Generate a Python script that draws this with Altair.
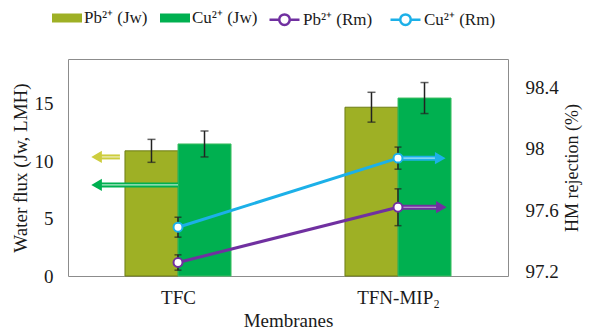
import altair as alt
import pandas as pd

# ---------------- data ----------------
membranes = ["TFC", "TFN-MIP₂"]
series_jw = ["Pb²⁺ (Jw)", "Cu²⁺ (Jw)"]
series_rm = ["Pb²⁺ (Rm)", "Cu²⁺ (Rm)"]

jw_pb = [10.9, 14.7]
jw_pb_err = [1.0, 1.3]
jw_cu = [11.5, 15.5]
jw_cu_err = [1.13, 1.35]

rm_pb = [97.26, 97.62]
rm_pb_err = [0.05, 0.12]
rm_cu = [97.49, 97.94]
rm_cu_err = [0.065, 0.072]

left_ticks = [0, 5, 10, 15]
right_ticks = [97.2, 97.6, 98, 98.4]

# arrow annotations pointing to the axis each series belongs to
arrow_left_y = [10.37, 7.93]          # Jw units
arrow_left_start = [0.236, 0.5]       # x units
arrow_left_end = [0.13, 0.13]
arrow_right_end = [1.692, 1.697]

# ---------------- style ----------------
FONT = "Liberation Serif"
TXT = "#1a1a1a"
OLIVE, GREEN = "#9EB025", "#00B050"
OLIVE_EDGE, GREEN_EDGE = "#6E7D16", "#3DBE62"
PURPLE, CYAN = "#7030A0", "#1CB0E8"
ARROW_YELLOW = "#CDCD3E"
BAR_W = 0.241
RECT = "M-1,-0.3H1V0.3H-1Z"
LINE_CIRCLE = ("M-1,0H-0.35M0.35,0H1M-0.35,0A0.35,0.35,0,1,1,0.35,0"
               "A0.35,0.35,0,1,1,-0.35,0Z")

# ---------------- tables ----------------
bar_rows = []
for i, m in enumerate(membranes):
    c = i + 0.5
    bar_rows.append(dict(series=series_jw[0], x0=c - BAR_W, x1=c, xm=c - BAR_W / 2,
                         jw=jw_pb[i], lo=jw_pb[i] - jw_pb_err[i], hi=jw_pb[i] + jw_pb_err[i],
                         edge=OLIVE_EDGE))
    bar_rows.append(dict(series=series_jw[1], x0=c, x1=c + BAR_W, xm=c + BAR_W / 2,
                         jw=jw_cu[i], lo=jw_cu[i] - jw_cu_err[i], hi=jw_cu[i] + jw_cu_err[i],
                         edge=GREEN_EDGE))
bar_df = pd.DataFrame(bar_rows)

rm_rows = []
for i, m in enumerate(membranes):
    c = i + 0.5
    rm_rows.append(dict(series=series_rm[0], x=c, rm=rm_pb[i],
                        lo=rm_pb[i] - rm_pb_err[i], hi=rm_pb[i] + rm_pb_err[i]))
    rm_rows.append(dict(series=series_rm[1], x=c, rm=rm_cu[i],
                        lo=rm_cu[i] - rm_cu_err[i], hi=rm_cu[i] + rm_cu_err[i]))
rm_df = pd.DataFrame(rm_rows)

la_df = pd.DataFrame(dict(y=arrow_left_y, x0=arrow_left_start, x1=arrow_left_end,
                          color=[ARROW_YELLOW, GREEN]))
last = len(membranes) - 0.5
ra_df = pd.DataFrame(dict(y=[rm_cu[-1], rm_pb[-1]], x0=[last, last], x1=arrow_right_end,
                          color=[CYAN, PURPLE]))

# ---------------- scales / axes ----------------
X_DOM = [0, len(membranes)]
YL_DOM = [0, 18.9]
YR_DOM = [97.172, 98.586]


def xs():
    return alt.Scale(domain=X_DOM)


def yl():
    return alt.Scale(domain=YL_DOM)


def yr():
    return alt.Scale(domain=YR_DOM)


# category label for each tick at i + 0.5
label_expr = "'" + membranes[-1] + "'"
for i in range(len(membranes) - 2, -1, -1):
    label_expr = f"datum.value < {i + 1} ? '{membranes[i]}' : ({label_expr})"

common = dict(grid=False, ticks=False, domain=False, labelFont=FONT, labelFontSize=19,
              titleFont=FONT, titleFontWeight="normal",
              labelColor=TXT, titleColor=TXT)
x_axis = alt.Axis(values=[i + 0.5 for i in range(len(membranes))], labelExpr=label_expr,
                  title="Membranes", labelPadding=12, titlePadding=4, titleFontSize=19,
                  **common)
yl_axis = alt.Axis(orient="left", values=left_ticks, title="Water flux (Jw, LMH)",
                   labelPadding=15, titlePadding=4, titleFontSize=19, **common)
yr_axis = alt.Axis(orient="right", values=right_ticks, format=".1~f",
                   title="HM rejection (%)", titleAngle=270, titleBaseline="top",
                   labelPadding=17, titlePadding=5, titleFontSize=18, **common)

legend_common = dict(orient="none", direction="horizontal", title=None, symbolSize=900,
                     labelFont=FONT, labelFontSize=17, labelColor=TXT, labelOffset=2,
                     columnPadding=12, legendY=-56)
legend_a = alt.Legend(legendX=-16, symbolType=RECT, symbolStrokeWidth=0, **legend_common)
legend_b = alt.Legend(legendX=200, symbolType=LINE_CIRCLE, symbolStrokeWidth=2.5,
                      symbolFillColor="white", **legend_common)

NOAX = None

# ---------------- Jw layers (left axis) ----------------
bars = alt.Chart(bar_df).mark_bar(strokeWidth=1).encode(
    x=alt.X("x0:Q", scale=xs(), axis=x_axis),
    x2="x1:Q",
    y=alt.Y("jw:Q", scale=yl(), axis=yl_axis),
    y2=alt.datum(0),
    fill=alt.Fill("series:N", scale=alt.Scale(domain=series_jw, range=[OLIVE, GREEN]),
                  legend=legend_a),
    stroke=alt.Stroke("edge:N", scale=None),
)
jw_rule = alt.Chart(bar_df).mark_rule(color="#222", strokeWidth=1.5).encode(
    x=alt.X("xm:Q", scale=xs(), axis=x_axis),
    y=alt.Y("lo:Q", scale=yl(), axis=NOAX), y2="hi:Q")
jw_cap_hi = alt.Chart(bar_df).mark_tick(color="#222", orient="horizontal", size=8,
                                        thickness=1.5).encode(
    x=alt.X("xm:Q", scale=xs(), axis=x_axis), y=alt.Y("hi:Q", scale=yl(), axis=NOAX))
jw_cap_lo = alt.Chart(bar_df).mark_tick(color="#222", orient="horizontal", size=8,
                                        thickness=1.5).encode(
    x=alt.X("xm:Q", scale=xs(), axis=x_axis), y=alt.Y("lo:Q", scale=yl(), axis=NOAX))

la_shaft = alt.Chart(la_df).mark_rule(strokeWidth=5).encode(
    x=alt.X("x0:Q", scale=xs(), axis=x_axis), x2="x1:Q",
    y=alt.Y("y:Q", scale=yl(), axis=NOAX),
    color=alt.Color("color:N", scale=None))
la_inner = alt.Chart(la_df).mark_rule(strokeWidth=1.2, color="white", opacity=0.7).encode(
    x=alt.X("x0:Q", scale=xs(), axis=x_axis), x2="x1:Q",
    y=alt.Y("y:Q", scale=yl(), axis=NOAX))
la_head = alt.Chart(la_df).mark_point(shape="triangle-left", filled=True, size=150,
                                      opacity=1).encode(
    x=alt.X("x1:Q", scale=xs(), axis=x_axis), y=alt.Y("y:Q", scale=yl(), axis=NOAX),
    color=alt.Color("color:N", scale=None))

# ---------------- Rm layers (right axis) ----------------
rm_rule = alt.Chart(rm_df).mark_rule(color="#222", strokeWidth=1.5).encode(
    x=alt.X("x:Q", scale=xs(), axis=x_axis),
    y=alt.Y("lo:Q", scale=yr(), axis=NOAX), y2="hi:Q")
rm_cap_hi = alt.Chart(rm_df).mark_tick(color="#222", orient="horizontal", size=7,
                                       thickness=1.5).encode(
    x=alt.X("x:Q", scale=xs(), axis=x_axis), y=alt.Y("hi:Q", scale=yr(), axis=NOAX))
rm_cap_lo = alt.Chart(rm_df).mark_tick(color="#222", orient="horizontal", size=7,
                                       thickness=1.5).encode(
    x=alt.X("x:Q", scale=xs(), axis=x_axis), y=alt.Y("lo:Q", scale=yr(), axis=NOAX))
lines = alt.Chart(rm_df).mark_line(strokeWidth=3).encode(
    x=alt.X("x:Q", scale=xs(), axis=x_axis),
    y=alt.Y("rm:Q", scale=yr(), axis=yr_axis),
    stroke=alt.Stroke("series:N", scale=alt.Scale(domain=series_rm, range=[PURPLE, CYAN]),
                      legend=legend_b),
)
ra_shaft = alt.Chart(ra_df).mark_rule(strokeWidth=5).encode(
    x=alt.X("x0:Q", scale=xs(), axis=x_axis), x2="x1:Q",
    y=alt.Y("y:Q", scale=yr(), axis=NOAX),
    color=alt.Color("color:N", scale=None))
ra_inner = alt.Chart(ra_df).mark_rule(strokeWidth=1.2, color="white", opacity=0.6).encode(
    x=alt.X("x0:Q", scale=xs(), axis=x_axis), x2="x1:Q",
    y=alt.Y("y:Q", scale=yr(), axis=NOAX))
ra_head = alt.Chart(ra_df).mark_point(shape="triangle-right", filled=True, size=150,
                                      opacity=1).encode(
    x=alt.X("x1:Q", scale=xs(), axis=x_axis), y=alt.Y("y:Q", scale=yr(), axis=NOAX),
    color=alt.Color("color:N", scale=None))
points = alt.Chart(rm_df).mark_point(filled=True, fill="white", size=80, strokeWidth=2,
                                     opacity=1).encode(
    x=alt.X("x:Q", scale=xs(), axis=x_axis), y=alt.Y("rm:Q", scale=yr(), axis=NOAX),
    stroke=alt.Stroke("series:N", legend=None))

chart = alt.layer(
    bars, jw_rule, jw_cap_hi, jw_cap_lo, la_shaft, la_inner, la_head,
    rm_rule, rm_cap_hi, rm_cap_lo, lines, ra_shaft, ra_inner, ra_head, points,
).resolve_scale(y="independent").properties(
    width=440, height=217,
    autosize=alt.AutoSizeParams(type="none"),
    padding={"left": 60, "top": 51, "right": 76, "bottom": 56},
).configure(
    font=FONT,
    style={"guide-label": {"font": FONT}, "guide-title": {"font": FONT}},
).configure_view(stroke="#8c8c8c", strokeWidth=1).configure_legend(
    symbolBaseFillColor="white"
).configure_axis(labelFont=FONT, titleFont=FONT, titleFontWeight="normal"
).configure_axisX(labelFont=FONT, titleFont=FONT
).configure_axisY(labelFont=FONT, titleFont=FONT)

chart.save("out.html", embed_options={"renderer": "svg", "actions": False})
